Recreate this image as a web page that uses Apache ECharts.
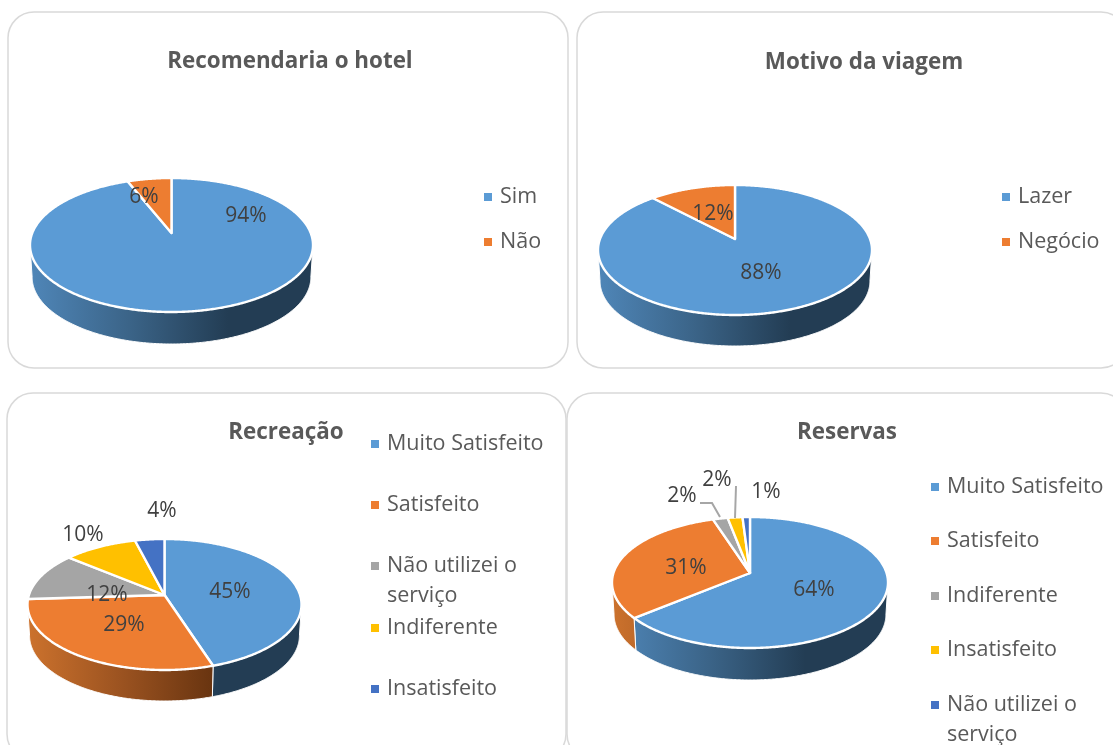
<!DOCTYPE html>
<html>
<head>
<meta charset="utf-8">
<style>html,body{margin:0;padding:0;background:#fff}#c{width:1113px;height:745px}</style>
<script src="https://cdn.jsdelivr.net/npm/echarts@6/dist/echarts.min.js"></script>
</head>
<body>
<div id="c"></div>
<script>
// ---- data ----
const recomendaCategories = ['Sim', 'Não'];
const recomendaValues = [94, 6];
const motivoCategories = ['Lazer', 'Negócio'];
const motivoValues = [88, 12];
const recreacaoCategories = ['Muito Satisfeito', 'Satisfeito', 'Não utilizei o\nserviço', 'Indiferente', 'Insatisfeito'];
const recreacaoValues = [45, 29, 12, 10, 4];
const reservasCategories = ['Muito Satisfeito', 'Satisfeito', 'Indiferente', 'Insatisfeito', 'Não utilizei o\nserviço'];
const reservasValues = [64, 31, 2, 2, 1];

// ---- layout and style ----
const FONT = '"Open Sans", "Noto Sans", sans-serif';
const LEG_SIZE = 21.5, TITLE_SIZE = 22.4, LABEL_SIZE = 21;
const colors = ['#5b9bd5', '#ed7d31', '#a5a5a5', '#ffc000', '#4472c4'];
const sideStops = {
  '#5b9bd5': ['#4f86b8', '#3b6488', '#233d54'],
  '#ed7d31': ['#cc722d', '#9a5220', '#65320f'],
  '#a5a5a5': ['#8d8d8d', '#6a6a6a', '#484848'],
  '#ffc000': ['#d9a300', '#a67d00', '#725600'],
  '#4472c4': ['#3a61a7', '#2c4a80', '#1f3358']
};
const panels = [
  {x: 8, y: 12, w: 560, h: 356}, {x: 577, y: 12, w: 550, h: 356},
  {x: 7, y: 393, w: 559, h: 367}, {x: 567, y: 393, w: 560, h: 367}
];
const charts = [
  {title: 'Recomendaria o hotel', tx: 290, ty: 62, cats: recomendaCategories, vals: recomendaValues,
   cx: 171.5, cy: 245, rx: 141.5, ry: 67, apex: 12, depth: 32,
   labels: [[246, 216], [144, 197]], legX: 484, legY: [196, 241]},
  {title: 'Motivo da viagem', tx: 864, ty: 63, cats: motivoCategories, vals: motivoValues,
   cx: 735, cy: 250, rx: 137, ry: 65, apex: 11, depth: 31,
   labels: [[761, 273], [713, 214]], legX: 1002, legY: [196, 241]},
  {title: 'Recreação', tx: 286, ty: 433, cats: recreacaoCategories, vals: recreacaoValues,
   cx: 164.5, cy: 604.5, rx: 137, ry: 65.5, apex: 9.5, depth: 31,
   labels: [[230, 592], [124, 625], [107, 595], [83, 535], [162, 511]], legX: 371, legY: [443, 504, 565, 627, 688]},
  {title: 'Reservas', tx: 847, ty: 433, cats: reservasCategories, vals: reservasValues,
   cx: 750, cy: 582.5, rx: 138, ry: 65.5, apex: 9.5, depth: 32,
   labels: [[814, 590], [686, 568], [682, 496], [717, 480], [766, 492]], legX: 931, legY: [486, 540, 595, 649, 704],
   leaders: [null, null, [[700, 503], [712, 503], [720, 517]], [[736, 486], [735, 518]], null]}
];

// ---- perspective projection of a disc point (angle clockwise from 12 o'clock) ----
function proj(c, deg, ringX, drop) {
  const t = deg * Math.PI / 180, e = c.apex / c.ry;
  const u = Math.sin(t), v = -Math.cos(t), w = 1 - e * v;
  const up = u * Math.sqrt(1 - e * e) / w, vp = (v - e) / w;
  return {x: c.cx + c.rx * ringX * up, y: c.cy + drop + c.ry * vp, front: vp >= 0};
}

function sliceRenderer(c, i) {
  const total = c.vals.reduce((a, b) => a + b, 0);
  const before = c.vals.slice(0, i).reduce((a, b) => a + b, 0);
  const color = colors[i];
  return function (params, api) {
    const a0 = before / total * 360, a1 = a0 + api.value(0) / total * 360;
    const apexPt = [c.cx, c.cy - c.apex], top = [apexPt], upper = [], lower = [];
    const n = Math.max(2, Math.ceil(a1 - a0) * 2);
    for (let k = 0; k <= n; k++) {
      const d = a0 + (a1 - a0) * k / n, p = proj(c, d, 1, 0);
      top.push([p.x, p.y]);
      if (p.front) {
        upper.push([p.x, p.y]);
        const b = proj(c, d, 0.985, c.depth);
        lower.unshift([b.x, b.y]);
      }
    }
    const children = [];
    if (upper.length > 1) {
      const s = sideStops[color];
      children.push({
        type: 'polygon', z2: 1, shape: {points: upper.concat(lower)},
        style: {
          fill: new echarts.graphic.LinearGradient(c.cx - c.rx, 0, c.cx + c.rx, 0, [
            {offset: 0, color: s[0]}, {offset: 0.35, color: s[1]},
            {offset: 0.7, color: s[2]}, {offset: 1, color: s[2]}
          ], true),
          stroke: '#fff', lineWidth: 1
        }
      });
    }
    children.push({type: 'polygon', z2: 10, shape: {points: top}, style: {fill: color, stroke: '#fff', lineWidth: 2.4, lineJoin: 'round'}});
    if (c.leaders && c.leaders[i]) {
      children.push({type: 'polyline', z2: 20, shape: {points: c.leaders[i]}, style: {fill: 'none', stroke: '#a6a6a6', lineWidth: 2}});
    }
    children.push({
      type: 'text', z2: 30, x: c.labels[i][0], y: c.labels[i][1],
      style: {text: Math.round(api.value(0)) + '%', fill: '#404040', font: LABEL_SIZE + 'px ' + FONT, align: 'center', verticalAlign: 'middle'}
    });
    return {type: 'group', children};
  };
}

const series = [], legends = [], titles = [];
charts.forEach(function (c, ci) {
  titles.push({
    text: c.title, left: c.tx, top: c.ty, textAlign: 'center', textVerticalAlign: 'middle', padding: 0,
    textStyle: {fontFamily: FONT, fontSize: TITLE_SIZE, fontWeight: 'bold', color: '#595959'}
  });
  c.cats.forEach(function (name, i) {
    series.push({
      type: 'custom', name: name, coordinateSystem: 'none', silent: true, animation: false,
      itemStyle: {color: colors[i]}, data: [[c.vals[i]]], renderItem: sliceRenderer(c, i)
    });
    const twoLines = name.indexOf('\n') >= 0;
    legends.push({
      selectedMode: false, orient: 'vertical', padding: 0,
      left: c.legX, top: c.legY[i] - 14,
      itemWidth: 8, itemHeight: twoLines ? 38 : 8, itemGap: 0,
      icon: twoLines ? 'path://M0 0H8V8H0Z M0 37.9H0.05V38H0Z' : 'rect',
      textStyle: {fontFamily: FONT, fontSize: LEG_SIZE, color: '#595959', lineHeight: 30, padding: [0, 0, 0, 3]},
      data: [{name: name, itemStyle: {color: colors[i]}}]
    });
  });
});

const chart = echarts.init(document.getElementById('c'), null, {renderer: 'canvas'});
chart.setOption({
  backgroundColor: '#fff',
  animation: false,
  title: titles,
  legend: legends,
  series: series,
  graphic: panels.map(p => ({
    type: 'rect', z: -10, silent: true,
    shape: {x: p.x, y: p.y, width: p.w, height: p.h, r: 26},
    style: {fill: '#fff', stroke: '#d9d9d9', lineWidth: 1.5}
  }))
});
</script>
</body>
</html>
